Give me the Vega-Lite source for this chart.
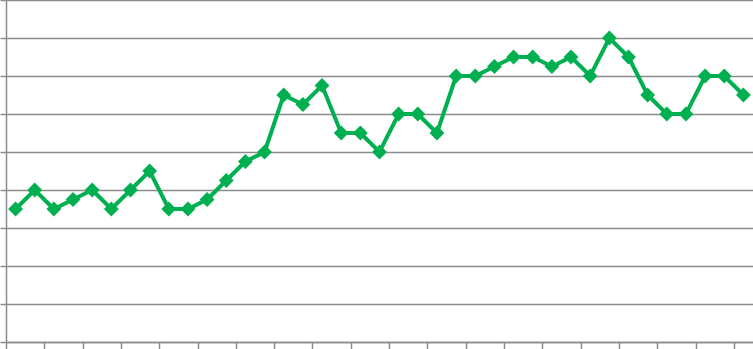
{
  "$schema": "https://vega.github.io/schema/vega-lite/v6.json",
  "width": 747,
  "height": 342,
  "autosize": {"type": "none"},
  "padding": {"left": 6, "top": 0, "right": 0, "bottom": 7},
  "background": "white",
  "config": {"view": {"stroke": null}},
  "data": {
    "values": [
      {"i": 1, "v": 3.5}, {"i": 2, "v": 4}, {"i": 3, "v": 3.5}, {"i": 4, "v": 3.75},
      {"i": 5, "v": 4}, {"i": 6, "v": 3.5}, {"i": 7, "v": 4}, {"i": 8, "v": 4.5},
      {"i": 9, "v": 3.5}, {"i": 10, "v": 3.5}, {"i": 11, "v": 3.75}, {"i": 12, "v": 4.25},
      {"i": 13, "v": 4.75}, {"i": 14, "v": 5}, {"i": 15, "v": 6.5}, {"i": 16, "v": 6.25},
      {"i": 17, "v": 6.75}, {"i": 18, "v": 5.5}, {"i": 19, "v": 5.5}, {"i": 20, "v": 5},
      {"i": 21, "v": 6}, {"i": 22, "v": 6}, {"i": 23, "v": 5.5}, {"i": 24, "v": 7},
      {"i": 25, "v": 7}, {"i": 26, "v": 7.25}, {"i": 27, "v": 7.5}, {"i": 28, "v": 7.5},
      {"i": 29, "v": 7.25}, {"i": 30, "v": 7.5}, {"i": 31, "v": 7}, {"i": 32, "v": 8},
      {"i": 33, "v": 7.5}, {"i": 34, "v": 6.5}, {"i": 35, "v": 6}, {"i": 36, "v": 6},
      {"i": 37, "v": 7}, {"i": 38, "v": 7}, {"i": 39, "v": 6.5}
    ]
  },
  "encoding": {
    "x": {
      "field": "i", "type": "quantitative",
      "scale": {"domain": [0.5, 39.5], "nice": false, "zero": false},
      "axis": {
        "values": [0.5, 2.5, 4.5, 6.5, 8.5, 10.5, 12.5, 14.5, 16.5, 18.5, 20.5, 22.5, 24.5, 26.5, 28.5, 30.5, 32.5, 34.5, 36.5, 38.5],
        "labels": false, "title": null, "grid": false,
        "tickSize": 7, "tickColor": "#8c8c8c", "tickWidth": 1.5,
        "domainColor": "#8c8c8c", "domainWidth": 1.5
      }
    },
    "y": {
      "field": "v", "type": "quantitative",
      "scale": {"domain": [0, 9], "nice": false},
      "axis": {
        "values": [0, 1, 2, 3, 4, 5, 6, 7, 8, 9],
        "labels": false, "title": null, "grid": true,
        "gridColor": "#8c8c8c", "gridWidth": 1.5, "gridOpacity": 1,
        "tickSize": 6, "tickColor": "#8c8c8c", "tickWidth": 1.5,
        "domainColor": "#8c8c8c", "domainWidth": 1.5
      }
    }
  },
  "layer": [
    {"mark": {"type": "line", "color": "#00B050", "strokeWidth": 4}},
    {"mark": {"type": "point", "shape": "diamond", "filled": true, "color": "#00B050", "size": 220, "opacity": 1}}
  ]
}
